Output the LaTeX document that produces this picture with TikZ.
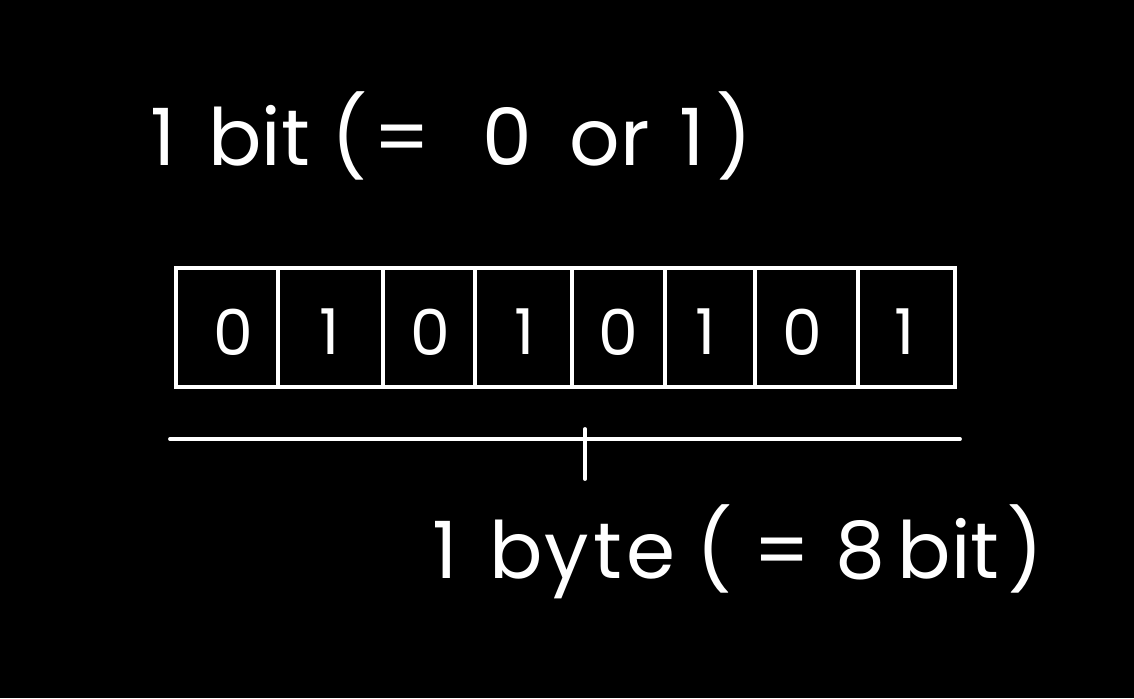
\documentclass[tikz,border=0pt]{standalone}
\usepackage{fontspec}
\setmainfont{Poppins}
\tikzset{
  chalk/.style={draw=white!90, line width=2.2pt, line cap=round},
  bitdigit/.style={text=white!95, font=\fontsize{36}{40}\selectfont, inner sep=0pt},
  label/.style={text=white!95, font=\fontsize{45}{50}\selectfont, inner sep=0pt, anchor=base west}
}
\begin{document}
\begin{tikzpicture}[x=0.02cm,y=-0.02cm]
  \fill[black] (0,0) rectangle (1134,698);
  \useasboundingbox (0,0) rectangle (1134,698);

  \node[label] (bit) at (150,165) {1\hspace{0.15em} bit (\hspace{0.08em}=\hspace{0.66em}0\hspace{0.47em}or\hspace{0.37em}1\hspace{0.15em})};

  % the byte: eight cells
  \draw[chalk] (176,268) rectangle (955,387);
  \draw[chalk] (278,268) -- (278,387);
  \draw[chalk] (383,268) -- (383,387);
  \draw[chalk] (475,268) -- (475,387);
  \draw[chalk] (572,268) -- (572,387);
  \draw[chalk] (665,268) -- (665,387);
  \draw[chalk] (755,268) -- (755,387);
  \draw[chalk] (858,268) -- (858,387);

  \node[bitdigit] (b1) at (233,332) {0};
  \node[bitdigit] (b2) at (330,332) {1};
  \node[bitdigit] (b3) at (430,332) {0};
  \node[bitdigit] (b4) at (525,332) {1};
  \node[bitdigit] (b5) at (618,332) {0};
  \node[bitdigit] (b6) at (706,332) {1};
  \node[bitdigit] (b7) at (802,332) {0};
  \node[bitdigit] (b8) at (905,332) {1};

  % bracket under the byte
  \coordinate (left end) at (170,439);
  \coordinate (right end) at (960,439);
  \coordinate (mid top) at (585,429);
  \coordinate (mid foot) at (585,479);
  \draw[chalk] (left end) -- (right end);
  \draw[chalk] (mid top) -- (mid foot);

  \node[label] (byte) at (432,578) {1\hspace{0.13em} b\hspace{0.03em}y\hspace{0.05em}t\hspace{0.05em}e (\hspace{0.27em}=\hspace{0.32em}8\hspace{0.15em}bit\hspace{0.1em})};
\end{tikzpicture}
\end{document}
